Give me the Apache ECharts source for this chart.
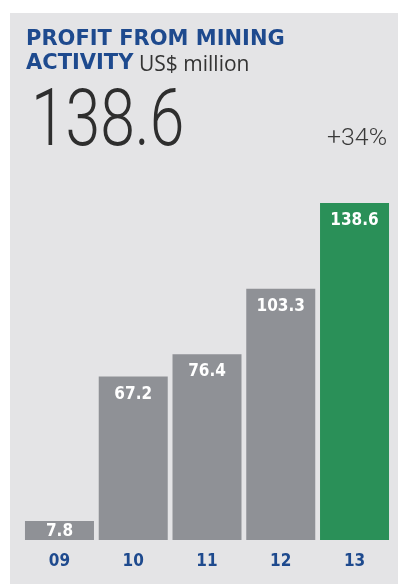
<!DOCTYPE html>
<html><head><meta charset="utf-8">
<script src="https://cdn.jsdelivr.net/npm/echarts@6/dist/echarts.min.js"></script>
<style>html,body{margin:0;padding:0;background:#fff}#c{width:398px;height:584px}</style>
</head><body><div id="c"></div>
<script>
const years = ['09', '10', '11', '12', '13'];
const profit = [7.8, 67.2, 76.4, 103.3, 138.6];
const titleLine1 = 'PROFIT FROM MINING';
const titleLine2 = 'ACTIVITY';
const unitText = 'US$ million';
const headline = '138.6';
const change = '+34%';

const GRAY = '#8f9196', GREEN = '#2a9058', BLUE = '#1e4a8e';
const chart = echarts.init(document.getElementById('c'), null, {renderer: 'canvas'});
const data = profit.map((v, i) => {
  const item = {value: v, itemStyle: {color: i === profit.length - 1 ? GREEN : GRAY}};
  if (i === 0) item.label = {position: 'inside', offset: [0, 1]};
  return item;
});
chart.setOption({
  backgroundColor: '#ffffff',
  animation: false,
  graphic: [
    {type: 'rect', z: -10, shape: {x: 10, y: 13, width: 388, height: 571}, style: {fill: '#e4e4e6'}},
    {type: 'text', x: 26, y: 39.5, style: {text: titleLine1, fill: BLUE, font: 'bold 21px "DejaVu Sans"', verticalAlign: 'middle'}},
    {type: 'text', x: 26, y: 64, style: {text: titleLine2, fill: BLUE, font: 'bold 21px "DejaVu Sans"', verticalAlign: 'middle'}},
    {type: 'text', x: 139, y: 65, style: {text: unitText, fill: '#333333', font: '21px "Open Sans"', verticalAlign: 'middle'}},
    {type: 'text', x: 31, y: 125, scaleX: 0.79, style: {text: headline, fill: '#2e2e2e', font: '300 79px Roboto', verticalAlign: 'middle'}},
    {type: 'text', x: 387, y: 139, scaleX: 1.08, style: {text: change, fill: '#3a3a3a', font: '300 23px Roboto', align: 'right', verticalAlign: 'middle'}}
  ],
  grid: {left: 22.6, right: 6.6, top: 203, bottom: 44},
  xAxis: {
    type: 'category', data: years,
    axisLine: {show: false}, axisTick: {show: false},
    axisLabel: {color: BLUE, fontFamily: '"DejaVu Sans Condensed"', fontWeight: 'bold', fontSize: 17, margin: 13}
  },
  yAxis: {type: 'value', min: 0, max: 138.6, show: false, splitLine: {show: false}},
  series: [{
    type: 'bar', data: data, barWidth: 69,
    label: {show: true, position: 'insideTop', distance: 9, color: '#ffffff',
      fontFamily: '"DejaVu Sans Condensed"', fontWeight: 'bold', fontSize: 17}
  }]
});
</script></body></html>
